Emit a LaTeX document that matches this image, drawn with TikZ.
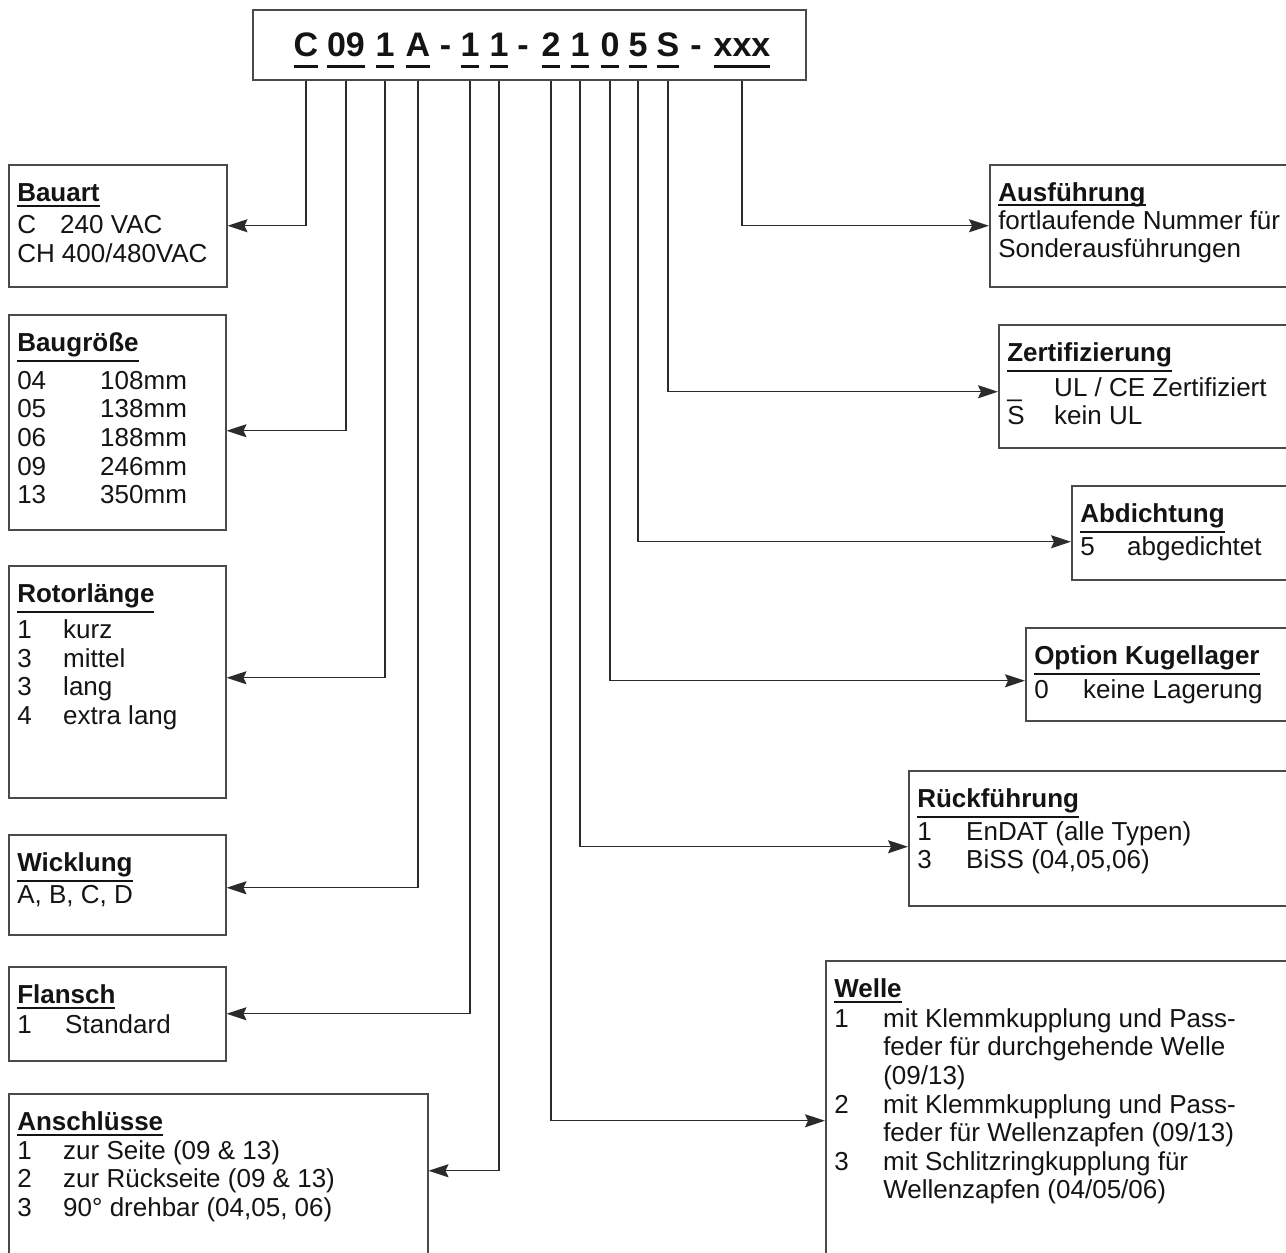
\documentclass[tikz,border=0pt]{standalone}
\usepackage{fontspec}
\setmainfont{Liberation Sans}
\usetikzlibrary{arrows.meta}
\definecolor{lineGray}{HTML}{2B2B2B}
\definecolor{boxGray}{HTML}{4A4A4A}
\definecolor{inkBlack}{HTML}{141414}

% underlined heading (rule below the descenders)
\newcommand{\hd}[1]{\sbox0{\bfseries #1}\rlap{\rule[\dimexpr-\dp0-4.5pt\relax]{\wd0}{1.8pt}}\usebox0}
% underlined heading (rule close to the baseline)
\newcommand{\hdb}[1]{\sbox0{\bfseries #1}\rlap{\rule[-4.5pt]{\wd0}{1.8pt}}\usebox0}
% underlined code character
\newcommand{\cd}[1]{\sbox0{#1}\rlap{\rule[-12pt]{\wd0}{2.6pt}}\usebox0}
% key column + value
\newcommand{\kv}[3]{\makebox[#1][l]{#2}#3}
% top aligned panel body
\newcommand{\pbody}[3]{\begin{minipage}[t][#2][t]{#1}\strut#3\end{minipage}}

\begin{document}
\begin{tikzpicture}[x=1pt, y=-1pt,
    panel/.style={draw=boxGray, line width=1.5pt, anchor=north west,
                  inner xsep=8.5pt, inner ysep=17pt, text=inkBlack,
                  font=\fontsize{26}{28.6}\selectfont},
    digit/.style={anchor=base, inner sep=0pt, text=inkBlack,
                  font=\fontsize{34}{40}\selectfont\bfseries},
    arr/.style={-{Stealth[length=20pt, width=13pt, inset=3pt]},
                line width=1.4pt, draw=lineGray}
  ]
  \path[use as bounding box, fill=white] (0,0) rectangle (1286,1253);

  % type code
  \node[draw=boxGray, line width=1.5pt, minimum width=553pt,
        minimum height=70pt, inner sep=0pt] (code) at (529.5,45) {};
  \node[digit] (cBau)  at (306,56) {\cd{C}};
  \node[digit] (cGr)   at (346,56) {\cd{09}};
  \node[digit] (cRot)  at (385,56) {\cd{1}};
  \node[digit] (cWi)   at (418,56) {\cd{A}};
  \node[digit] (dash1) at (445.5,56) {-};
  \node[digit] (cFl)   at (470,56) {\cd{1}};
  \node[digit] (cAn)   at (499,56) {\cd{1}};
  \node[digit] (dash2) at (523,56) {-};
  \node[digit] (cWe)   at (551,56) {\cd{2}};
  \node[digit] (cRf)   at (580,56) {\cd{1}};
  \node[digit] (cKu)   at (610,56) {\cd{0}};
  \node[digit] (cAb)   at (638,56) {\cd{5}};
  \node[digit] (cZe)   at (668,56) {\cd{S}};
  \node[digit] (dash3) at (696,56) {-};
  \node[digit] (cAu)   at (742,56) {\cd{xxx}};

  % left column
  \node[panel] (bauart) at (8,164)
    {\pbody{201pt}{88pt}{\hd{Bauart}\\[3.5pt]
      \kv{43pt}{C}{240 VAC}\\
      CH 400/480VAC}};
  \node[panel] (baug) at (8,314)
    {\pbody{200pt}{181pt}{\hd{Baugröße}\\[9pt]
      \kv{83pt}{04}{108mm}\\
      \kv{83pt}{05}{138mm}\\
      \kv{83pt}{06}{188mm}\\
      \kv{83pt}{09}{246mm}\\
      \kv{83pt}{13}{350mm}}};
  \node[panel] (rotor) at (8,565)
    {\pbody{200pt}{198pt}{\hd{Rotorlänge}\\[6pt]
      \kv{46pt}{1}{kurz}\\
      \kv{46pt}{3}{mittel}\\
      \kv{46pt}{3}{lang}\\
      \kv{46pt}{4}{extra lang}}};
  \node[panel] (wickl) at (8,834)
    {\pbody{200pt}{66pt}{\hd{Wicklung}\\[3.5pt]
      A, B, C, D}};
  \node[panel] (flansch) at (8,966)
    {\pbody{200pt}{60pt}{\hd{Flansch}\\[1pt]
      \kv{48pt}{1}{Standard}}};
  \node[panel] (ansch) at (8,1093)
    {\pbody{402pt}{146pt}{\hd{Anschlüsse}\\[0pt]
      \kv{46pt}{1}{zur Seite (09 \& 13)}\\
      \kv{46pt}{2}{zur Rückseite (09 \& 13)}\\
      \kv{46pt}{3}{90° drehbar (04,05, 06)}}};

  % right column
  \node[panel] (ausf) at (989,164)
    {\pbody{294pt}{88pt}{\hdb{Ausführung}\\[-1pt]
      fortlaufende Nummer für\\
      Sonderausführungen}};
  \node[panel] (zert) at (998,324)
    {\pbody{285pt}{89pt}{\hd{Zertifizierung}\\[4.5pt]
      \kv{47pt}{\_}{UL / CE Zertifiziert}\\
      \kv{47pt}{S}{kein UL}}};
  \node[panel] (abd) at (1071,485)
    {\pbody{212pt}{60pt}{\hd{Abdichtung}\\[2.5pt]
      \kv{47pt}{5}{abgedichtet}}};
  \node[panel] (kugel) at (1025,627)
    {\pbody{258pt}{59pt}{\hd{Option Kugellager}\\[3.5pt]
      \kv{49pt}{0}{keine Lagerung}}};
  \node[panel] (rueck) at (908,770)
    {\pbody{375pt}{101pt}{\hd{Rückführung}\\[2.5pt]
      \kv{49pt}{1}{EnDAT (alle Typen)}\\
      \kv{49pt}{3}{BiSS (04,05,06)}}};
  \node[panel] (welle) at (825,960)
    {\pbody{458pt}{286pt}{\hd{Welle}\\[1pt]
      \kv{49pt}{1}{mit Klemmkupplung und Pass-}\\
      \kv{49pt}{}{feder für durchgehende Welle}\\
      \kv{49pt}{}{(09/13)}\\
      \kv{49pt}{2}{mit Klemmkupplung und Pass-}\\
      \kv{49pt}{}{feder für Wellenzapfen (09/13)}\\
      \kv{49pt}{3}{mit Schlitzringkupplung für}\\
      \kv{49pt}{}{Wellenzapfen (04/05/06)}}};

  % connectors
  \draw[arr] (cBau |- code.south) |- (bauart.east);
  \draw[arr] (cGr |- code.south)  |- ([yshift=-8.5pt]baug.east);
  \draw[arr] (cRot |- code.south) |- ([yshift=4pt]rotor.east);
  \draw[arr] (cWi |- code.south)  |- ([yshift=-3pt]wickl.east);
  \draw[arr] (cFl |- code.south)  |- (flansch.east);
  \draw[arr] (cAn |- code.south)  |- ([yshift=13pt]ansch.east);
  \draw[arr] (cAu |- code.south)  |- (ausf.west);
  \draw[arr] (cZe |- code.south)  |- ([yshift=-5.5pt]zert.west);
  \draw[arr] (cAb |- code.south)  |- ([yshift=-9pt]abd.west);
  \draw[arr] (cKu |- code.south)  |- ([yshift=-6.5pt]kugel.west);
  \draw[arr] (cRf |- code.south)  |- ([yshift=-8.5pt]rueck.west);
  \draw[arr] (cWe |- code.south)  |- (welle.west);
\end{tikzpicture}
\end{document}
